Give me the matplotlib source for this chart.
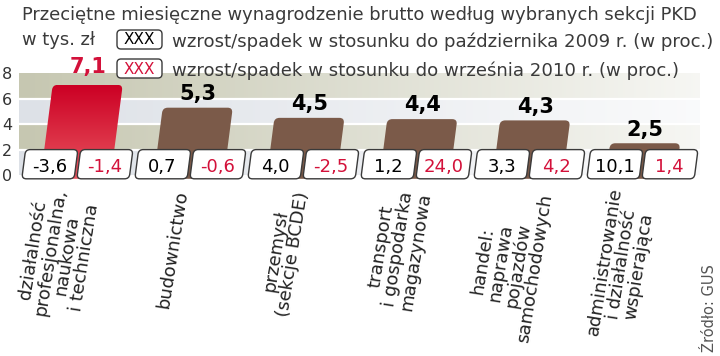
import numpy as np
import matplotlib
matplotlib.use('Agg')
import matplotlib.pyplot as plt
import matplotlib.transforms as mtransforms
from matplotlib.patches import FancyBboxPatch

# dane (tys. zł i zmiany w proc.)
categories = ['działalność\nprofesjonalna,\nnaukowa\ni techniczna',
              'budownictwo',
              'przemysł\n(sekcje BCDE)',
              'transport\ni gospodarka\nmagazynowa',
              'handel:\nnaprawa\npojazdów\nsamochodowych',
              'administrowanie\ni działalność\nwspierająca']
wages = [7.1, 5.3, 4.5, 4.4, 4.3, 2.5]
vs_oct_2009 = [-3.6, 0.7, 4.0, 1.2, 3.3, 10.1]
vs_sep_2010 = [-1.4, -0.6, -2.5, 24.0, 4.2, 1.4]
yticks = [0, 2, 4, 6, 8]

RED = '#d3113a'
BROWN = '#7b5a49'
OLIVE = np.array([198, 199, 177]) / 255
BLUE = np.array([221, 225, 231]) / 255


def pl(v):
    return f'{v:.1f}'.replace('.', ',')


plt.rcParams['font.family'] = ['DejaVu Sans']

fig = plt.figure(figsize=(7.2, 3.56), dpi=100)

# skala: 0 -> 175 px, 12.7 px na jednostke, kategorie co 113 px od 76 px
ymin, ymax = -1.2, 8.0
top_px = 175 - ymax * 12.7
bot_px = 175 - ymin * 12.7
ax = fig.add_axes([18 / 720, (356 - bot_px) / 356, (705 - 18) / 720, (bot_px - top_px) / 356])
x = np.arange(len(wages))

# tlo w pasy, rozjasniane w prawo
ncol = 300
fade = np.linspace(0, 0.85, ncol)[None, :, None]
rows = np.array([BLUE, OLIVE, BLUE, OLIVE])[:, None, :]
img = rows * (1 - fade) + fade
ax.imshow(img, extent=(-0.5, 5.52, 0, 8), origin='lower', aspect='auto',
          interpolation='nearest', zorder=0)
ax.hlines([2, 4, 6], -0.5, 5.52, color='white', lw=1.6, zorder=1)

k = 0.0146
aspect = 113 / 12.7
skew = mtransforms.Affine2D().skew(np.arctan(k), 0) + ax.transData
w = 0.62
base = -0.3

for i, h in enumerate(wages):
    bar = FancyBboxPatch((x[i] - w / 2, base), w, h - base,
                         boxstyle='round,pad=0,rounding_size=0.045',
                         mutation_aspect=aspect, transform=skew,
                         fc=BROWN if i else 'none', ec='none', zorder=2)
    ax.add_patch(bar)
    if i == 0:
        grad = np.linspace(0, 1, 100)[:, None, None]
        top_c = np.array([204, 0, 36]) / 255
        bot_c = np.array([232, 85, 95]) / 255
        gimg = bot_c * (1 - grad) + top_c * grad
        im = ax.imshow(gimg, extent=(x[i] - w / 2 - 0.05, x[i] + w / 2 + 0.15, base, h),
                       origin='lower', aspect='auto', zorder=2)
        im.set_clip_path(bar)
    col = RED if i == 0 else 'black'
    off = 0.9 if i == 0 else 0.6
    ax.text(x[i] + k * h, h + off, pl(h), ha='center', va='baseline',
            fontsize=15, fontweight='bold', color=col, zorder=4, clip_on=False)

# ramki ze zmianami
bw = 0.463
for i in range(len(wages)):
    for x0, val, col in [(x[i] - 0.475, vs_oct_2009[i], 'black'),
                         (x[i] + 0.012, vs_sep_2010[i], RED)]:
        box = FancyBboxPatch((x0, base), bw, 2.0 - base,
                             boxstyle='round,pad=0,rounding_size=0.04',
                             mutation_aspect=aspect, transform=skew,
                             fc='white', ec='#3a3a3a', lw=1.0, zorder=3, clip_on=False)
        ax.add_patch(box)
        ax.text(x0 + bw / 2 + k * 0.7, 0.6, pl(val), ha='center', va='center',
                fontsize=13, color=col, zorder=4)

for i, lab in enumerate(categories):
    ax.text(x[i] - 0.065, ymin, lab, rotation=81, rotation_mode='anchor',
            ha='right', va='center', multialignment='center', linespacing=0.95,
            fontsize=13, color='#222222', clip_on=False)

ax.set_xlim(-0.513, 5.566)
ax.set_ylim(ymin, ymax)
ax.set_xticks([])
ax.set_yticks(yticks)
ax.set_yticklabels([str(t) for t in yticks])
ax.tick_params(axis='y', length=0, pad=4, labelsize=11.5, labelcolor='#333333')
for s in ax.spines.values():
    s.set_visible(False)
ax.patch.set_alpha(0)

# naglowek i legenda (wspolrzedne w pikselach)
ov = fig.add_axes([0, 0, 1, 1], zorder=5)
ov.set_xlim(0, 720)
ov.set_ylim(356, 0)
ov.axis('off')
ov.text(22, 20, 'Przeciętne miesięczne wynagrodzenie brutto według wybranych sekcji PKD',
        va='baseline', fontsize=12.9, color='#3a3a3a')
ov.text(22, 45, 'w tys. zł', va='baseline', fontsize=12.9, color='#3a3a3a')
leg = [('wzrost/spadek w stosunku do października 2009 r. (w proc.)', 'black', 30),
       ('wzrost/spadek w stosunku do września 2010 r. (w proc.)', RED, 59)]
for txt, col, y0 in leg:
    ov.add_patch(FancyBboxPatch((117, y0), 45, 19, boxstyle='round,pad=0,rounding_size=4',
                                fc='white', ec='#3a3a3a', lw=1.0))
    ov.text(139.5, y0 + 10, 'XXX', ha='center', va='center', fontsize=11, color=col)
    ov.text(172, y0 + 17, txt, va='baseline', fontsize=13.1, color='#3a3a3a')
ov.text(709, 352, 'Źródło: GUS', rotation=90, ha='center', va='bottom',
        fontsize=10.5, color='#555555')

fig.savefig('out.png', dpi=100)
